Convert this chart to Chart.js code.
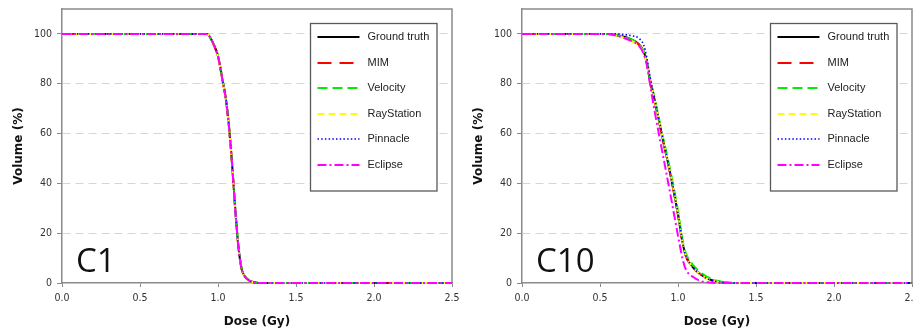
<!DOCTYPE html>
<html>
<head>
<meta charset="utf-8">
<script src="https://cdn.jsdelivr.net/npm/chart.js@4/dist/chart.umd.min.js"></script>
<style>
  html, body { margin: 0; padding: 0; background: #fff; overflow: hidden; }
  #wrap { position: relative; width: 914px; height: 332px; overflow: hidden; background: #fff; }
  .panel { position: absolute; top: 0; width: 460px; height: 332px; }
  #p1 { left: 0; }
  #p2 { left: 460px; }
</style>
</head>
<body>
<div id="wrap">
  <div class="panel" id="p1"><canvas id="c1" width="460" height="332"></canvas></div>
  <div class="panel" id="p2"><canvas id="c2" width="460" height="332"></canvas></div>
</div>
<script>
// ---------- DATA ----------
const seriesNames = ["Ground truth", "MIM", "Velocity", "RayStation", "Pinnacle", "Eclipse"];
const xTickLabels = ["0.0", "0.5", "1.0", "1.5", "2.0", "2.5"];
const yTickLabels = [0, 20, 40, 60, 80, 100];

// Panel C1
const c1Dose        = [0, 0.5, 0.9, 0.93, 0.95, 0.97, 1.0, 1.03, 1.05, 1.07, 1.09, 1.1, 1.11, 1.12, 1.13, 1.15, 1.17, 1.2, 1.23, 1.26, 1.5, 2.0, 2.5];
const c1GroundTruth = [100, 100, 100, 100, 98.5, 96, 91, 81, 74, 63, 48, 39, 30, 22, 15, 6, 2.8, 1, 0.3, 0, 0, 0, 0];
const c1MIM         = [100, 100, 100, 100, 98.4, 96, 91, 81, 74, 63, 48, 39, 30, 22, 15, 6, 2.8, 1, 0.3, 0, 0, 0, 0];
const c1Velocity    = [100, 100, 100, 100, 98.5, 96.2, 91.3, 81.5, 74.5, 63.5, 48.5, 39.5, 30.5, 22.5, 15.3, 6.3, 3.0, 1.1, 0.35, 0, 0, 0, 0];
const c1RayStation  = [100, 100, 100, 100, 98.4, 95.9, 90.8, 80.8, 73.8, 62.8, 47.8, 38.8, 29.8, 21.8, 14.8, 5.9, 2.7, 0.9, 0.3, 0, 0, 0, 0];
const c1Pinnacle    = [100, 100, 100, 100, 98.6, 96.1, 91.1, 81.2, 74.2, 63.2, 48.2, 39.2, 30.2, 22.2, 15.1, 6.1, 2.9, 1, 0.3, 0, 0, 0, 0];
const c1Eclipse     = [100, 100, 100, 100, 98.5, 96, 91, 81, 74, 63, 48, 39, 30, 22, 15, 6, 2.8, 1, 0.3, 0, 0, 0, 0];

// Panel C10
const c10Dose        = [0, 0.5, 0.55, 0.6, 0.65, 0.7, 0.75, 0.78, 0.8, 0.82, 0.85, 0.9, 0.95, 1.0, 1.03, 1.05, 1.1, 1.15, 1.2, 1.25, 1.3, 1.35, 1.5, 2.0, 2.5];
const c10GroundTruth = [100, 100, 100, 99.6, 98.9, 97.8, 95.8, 93, 88.5, 81.5, 73.5, 58.5, 44, 27.5, 16, 11, 6, 3.3, 1.5, 0.6, 0.2, 0, 0, 0, 0];
const c10MIM         = [100, 100, 100, 99.6, 98.9, 97.7, 95.7, 92.8, 88.3, 81.3, 73.3, 58.3, 43.8, 27.3, 15.8, 10.8, 5.9, 3.2, 1.4, 0.6, 0.2, 0, 0, 0, 0];
const c10Velocity    = [100, 100, 100, 99.6, 98.9, 97.8, 95.8, 93, 88.7, 82, 74.2, 59.5, 45.5, 29, 17, 12, 7, 4, 2, 0.9, 0.3, 0.05, 0, 0, 0];
const c10RayStation  = [100, 100, 100, 99.4, 98.5, 97.2, 95.1, 92.5, 88, 81.5, 73.5, 59, 44.5, 28, 16, 11, 6, 3.2, 1.4, 0.5, 0.15, 0, 0, 0, 0];
const c10Pinnacle    = [100, 100, 100, 100, 99.8, 99.3, 98.2, 95.5, 90.5, 83, 74, 59, 44.5, 28, 16, 11, 6, 3.2, 1.4, 0.5, 0.15, 0, 0, 0, 0];
const c10Eclipse     = [100, 100, 100, 99.4, 98.5, 97.2, 95.2, 92, 87.5, 80, 69, 52.5, 36, 19, 9.5, 5.5, 2.3, 0.7, 0.2, 0, 0, 0, 0, 0, 0];

// ---------- STYLES ----------
const seriesStyles = [
  { color: "#000000", dash: [], width: 2 },
  { color: "#ff0000", dash: [14, 8], width: 2 },
  { color: "#00ee00", dash: [10, 5], width: 2 },
  { color: "#ffff00", dash: [7, 4], width: 2 },
  { color: "#0000ff", dash: [1.5, 2.2], width: 1.6 },
  { color: "#ff00ff", dash: [9, 3, 2, 3], width: 2 }
];

const TICK_FONT = { family: "'DejaVu Sans Condensed', 'Liberation Sans', sans-serif", size: 10.5 };
const TITLE_FONT = { family: "'DejaVu Sans', sans-serif", size: 12, weight: "bold" };

function buildDatasets(dose, seriesList) {
  const n = seriesList.length;
  return seriesList.map((vals, i) => ({
    label: seriesNames[i],
    data: dose.map((d, k) => ({ x: d, y: vals[k] })),
    borderColor: seriesStyles[i].color,
    borderDash: seriesStyles[i].dash,
    borderWidth: seriesStyles[i].width,
    pointRadius: 0,
    fill: false,
    cubicInterpolationMode: "monotone",
    clip: false,
    order: n - 1 - i
  }));
}

const framePlugin = {
  id: "frame",
  beforeDatasetsDraw(chart) {
    const { ctx, chartArea: a } = chart;
    ctx.save();
    ctx.strokeStyle = "#8a8a8a";
    ctx.lineWidth = 1.5;
    ctx.beginPath();
    ctx.moveTo(a.left, a.top);
    ctx.lineTo(a.right, a.top);
    ctx.lineTo(a.right, a.bottom);
    ctx.stroke();
    ctx.restore();
  }
};

const legendBoxPlugin = {
  id: "legendBox",
  afterDatasetsDraw(chart) {
    const { ctx, chartArea: a } = chart;
    const bx = a.left + 248.5, by = a.top + 14.5, bw = 126.5, bh = 167.5;
    ctx.save();
    ctx.fillStyle = "#ffffff";
    ctx.fillRect(bx, by, bw, bh);
    ctx.strokeStyle = "#5a5a5a";
    ctx.lineWidth = 1.3;
    ctx.strokeRect(bx, by, bw, bh);
    chart.data.datasets.forEach((ds, i) => {
      const y = Math.round(by + 13.7 + i * 25.5);
      ctx.setLineDash(ds.borderDash || []);
      ctx.strokeStyle = ds.borderColor;
      ctx.lineWidth = ds.borderWidth;
      ctx.beginPath();
      ctx.moveTo(bx + 7, y);
      ctx.lineTo(bx + 49, y);
      ctx.stroke();
      ctx.setLineDash([]);
      ctx.fillStyle = "#222";
      ctx.font = "11px 'Liberation Sans', Arial, sans-serif";
      ctx.textBaseline = "middle";
      ctx.textAlign = "left";
      ctx.fillText(ds.label, bx + 57, y);
    });
    ctx.restore();
  }
};

const panelLabelPlugin = {
  id: "panelLabel",
  afterDatasetsDraw(chart, args, opts) {
    const { ctx, chartArea: a } = chart;
    ctx.save();
    ctx.fillStyle = "#111";
    ctx.font = "33px 'Open Sans', 'Noto Sans', sans-serif";
    ctx.textBaseline = "alphabetic";
    ctx.textAlign = "left";
    ctx.fillText(opts.text, a.left + 14, a.bottom - 11);
    ctx.restore();
  }
};

function makeChart(canvasId, label, dose, seriesList) {
  return new Chart(document.getElementById(canvasId), {
    type: "line",
    data: { datasets: buildDatasets(dose, seriesList) },
    options: {
      responsive: false,
      animation: false,
      layout: { padding: { top: 9, right: 8, left: 0, bottom: 0 } },
      plugins: {
        legend: { display: false },
        tooltip: { enabled: false },
        panelLabel: { text: label }
      },
      scales: {
        x: {
          type: "linear",
          min: 0,
          max: 2.5,
          afterFit(s) { s.height = 49; s.paddingLeft = 0; s.paddingRight = 0; },
          ticks: {
            stepSize: 0.5,
            padding: 5,
            color: "#333",
            font: TICK_FONT,
            maxRotation: 0,
            callback: (v, i) => xTickLabels[Math.round(v / 0.5)]
          },
          grid: { drawOnChartArea: false, drawTicks: true, tickLength: 4, tickColor: "#8a8a8a", tickWidth: 1 },
          border: { display: true, color: "#8a8a8a", width: 1.5 },
          title: { display: true, text: "Dose (Gy)", color: "#111", font: TITLE_FONT, padding: { top: 0, bottom: 3 } }
        },
        y: {
          type: "linear",
          min: 0,
          max: 110,
          afterFit(s) { s.width = 62; s.paddingTop = 0; s.paddingBottom = 0; },
          afterBuildTicks(s) { s.ticks = yTickLabels.map(v => ({ value: v })); },
          ticks: { stepSize: 20, padding: 5, color: "#333", font: TICK_FONT },
          grid: {
            color: (c) => (c.tick && c.tick.value === 0 ? "rgba(0,0,0,0)" : "#d6d6d6"),
            lineWidth: 1,
            tickLength: 5,
            tickColor: "#8a8a8a",
            tickWidth: 1
          },
          border: { display: true, color: "#8a8a8a", width: 1.5, dash: [8, 5] },
          title: { display: true, text: "Volume (%)", color: "#111", font: TITLE_FONT, padding: { top: 12, bottom: 0 } }
        }
      }
    },
    plugins: [framePlugin, legendBoxPlugin, panelLabelPlugin]
  });
}

makeChart("c1", "C1", c1Dose, [c1GroundTruth, c1MIM, c1Velocity, c1RayStation, c1Pinnacle, c1Eclipse]);
makeChart("c2", "C10", c10Dose, [c10GroundTruth, c10MIM, c10Velocity, c10RayStation, c10Pinnacle, c10Eclipse]);
</script>
</body>
</html>
